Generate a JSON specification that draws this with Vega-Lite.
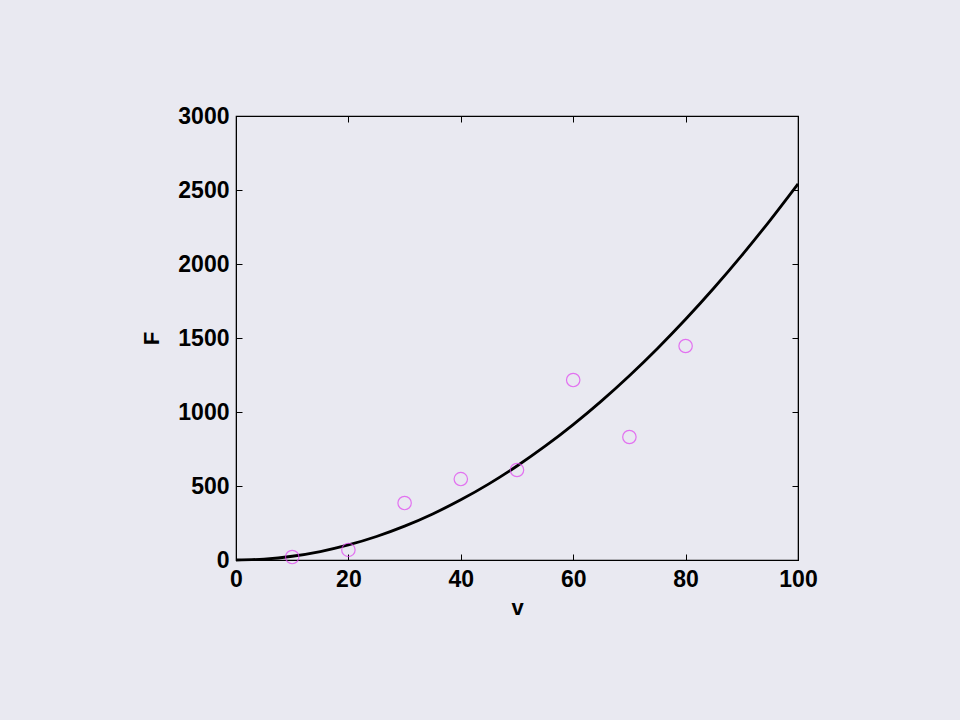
{
  "$schema": "https://vega.github.io/schema/vega-lite/v6.json",
  "width": 562,
  "height": 444,
  "autosize": {"type": "none"},
  "padding": {"left": 236, "top": 116, "right": 162, "bottom": 160},
  "background": "#E9E9F1",
  "config": {
    "view": {"stroke": "#000000", "strokeWidth": 1.2, "fill": "#E9E9F1"},
    "axis": {
      "labelFont": "Liberation Sans",
      "labelFontWeight": "bold",
      "labelFontSize": 23,
      "labelColor": "#000000",
      "labelFlush": false,
      "labelOverlap": false,
      "format": "d",
      "titleFont": "Liberation Sans",
      "titleFontWeight": "bold",
      "titleFontSize": 22,
      "titleColor": "#000000",
      "domainColor": "#000000",
      "tickColor": "#000000",
      "tickSize": -6,
      "grid": false
    }
  },
  "datasets": {
    "curve": [
      {"v": 0, "F": 0}, {"v": 5, "F": 6.4}, {"v": 10, "F": 25.4}, {"v": 15, "F": 57.2},
      {"v": 20, "F": 101.6}, {"v": 25, "F": 158.8}, {"v": 30, "F": 228.7}, {"v": 35, "F": 311.2},
      {"v": 40, "F": 406.6}, {"v": 45, "F": 514.5}, {"v": 50, "F": 635.3}, {"v": 55, "F": 768.7},
      {"v": 60, "F": 914.8}, {"v": 65, "F": 1073.6}, {"v": 70, "F": 1245.1}, {"v": 75, "F": 1429.3},
      {"v": 80, "F": 1626.2}, {"v": 85, "F": 1835.9}, {"v": 90, "F": 2058.2}, {"v": 95, "F": 2293.3},
      {"v": 100, "F": 2541}
    ],
    "obs": [
      {"v": 10, "F": 20}, {"v": 20, "F": 68}, {"v": 30, "F": 385}, {"v": 40, "F": 547},
      {"v": 50, "F": 608}, {"v": 60, "F": 1216}, {"v": 70, "F": 831}, {"v": 80, "F": 1446}
    ]
  },
  "layer": [
    {
      "data": {"name": "curve"},
      "mark": {"type": "line", "color": "#000000", "strokeWidth": 2.8, "interpolate": "monotone"},
      "encoding": {
        "x": {"field": "v", "type": "quantitative", "scale": {"domain": [0, 100], "nice": false},
          "axis": {"title": "v", "values": [0, 20, 40, 60, 80, 100], "labelPadding": 14, "titlePadding": 6}},
        "y": {"field": "F", "type": "quantitative", "scale": {"domain": [0, 3000], "nice": false},
          "axis": {"title": "F", "values": [0, 500, 1000, 1500, 2000, 2500, 3000], "labelPadding": 13, "titlePadding": 14}}
      }
    },
    {
      "data": {"name": "obs"},
      "mark": {"type": "point", "shape": "circle", "filled": false, "color": "#E040F0", "size": 180, "strokeWidth": 1.2},
      "encoding": {
        "x": {"field": "v", "type": "quantitative",
          "axis": {"orient": "top", "title": null, "labels": false, "values": [0, 20, 40, 60, 80, 100]}},
        "y": {"field": "F", "type": "quantitative",
          "axis": {"orient": "right", "title": null, "labels": false, "values": [0, 500, 1000, 1500, 2000, 2500, 3000]}}
      }
    }
  ],
  "resolve": {"axis": {"x": "independent", "y": "independent"}}
}
